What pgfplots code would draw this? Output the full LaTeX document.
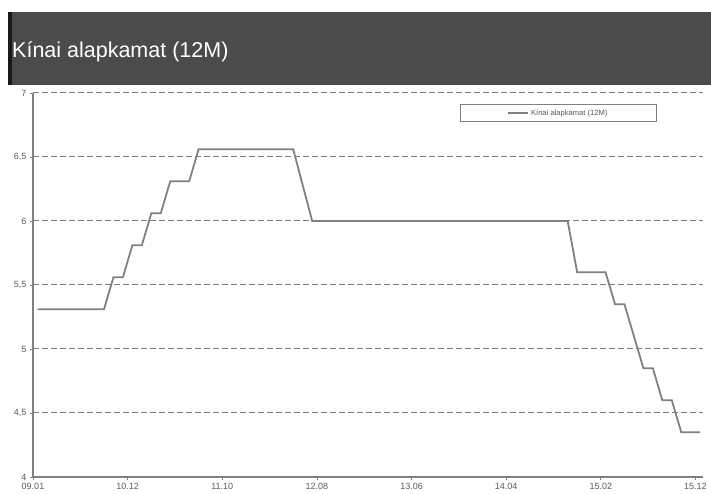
\documentclass[border=0pt]{standalone}
\usepackage{fontspec}
\setmainfont{Liberation Sans}
\usepackage{pgfplots}
\pgfplotsset{compat=1.18}
\definecolor{hdr}{HTML}{4B4B4B}
\definecolor{ln}{HTML}{808080}
\definecolor{tk}{HTML}{5A5A5A}
\begin{document}
\begin{tikzpicture}[x=1pt,y=1pt]
\useasboundingbox (0,0) rectangle (711,494);
\fill[hdr] (8,409) rectangle (711,482);
\fill[black!90] (8,409) rectangle (12,482);
\node[anchor=west, text=white, font=\fontsize{21.5}{25}\selectfont, inner sep=0pt] at (12,442) {Kínai alapkamat (12M)};
\begin{axis}[
  at={(33pt,17pt)}, anchor=south west,
  scale only axis, width=670pt, height=384pt,
  xmin=0, xmax=70.8, ymin=4, ymax=7,
  axis x line*=bottom, axis y line*=left,
  x axis line style={-}, y axis line style={-},
  axis line style={ln, line width=1.3pt},
  xtick={0,10,20,30,40,50,60,70},
  xticklabels={09.01,10.12,11.10,12.08,13.06,14.04,15.02,15.12},
  ytick={4,4.5,5,5.5,6,6.5,7},
  tick align=outside, major tick length=3pt,
  tick style={ln, line width=0.8pt},
  ymajorgrids,
  grid style={ln, line width=1pt, dash pattern=on 6pt off 3pt},
  ticklabel style={font=\fontsize{9}{10}\selectfont, text=tk},
  /pgf/number format/assume math mode=true,
  /pgf/number format/.cd, use comma, fixed, precision=1, /pgfplots/.cd,
  legend style={at={(0.637,0.971)}, anchor=north west, draw=ln, line width=1pt,
    inner xsep=47pt, inner ysep=3pt,
    font=\fontsize{7.6}{8.5}\selectfont, text=tk},
  legend image code/.code={\draw[#1] (0pt,0pt) -- (20pt,0pt);},
]
\addplot[ln, line width=1.8pt] coordinates {
(0.5,5.31) (1.5,5.31) (2.5,5.31) (3.5,5.31) (4.5,5.31) (5.5,5.31) (6.5,5.31) (7.5,5.31)
(8.5,5.56) (9.5,5.56) (10.5,5.81) (11.5,5.81) (12.5,6.06) (13.5,6.06)
(14.5,6.31) (15.5,6.31) (16.5,6.31)
(17.5,6.56) (18.5,6.56) (19.5,6.56) (20.5,6.56) (21.5,6.56) (22.5,6.56) (23.5,6.56) (24.5,6.56) (25.5,6.56) (26.5,6.56) (27.5,6.56)
(29.5,6.00) (35.5,6.00) (40.5,6.00) (45.5,6.00) (50.5,6.00) (56.5,6.00)
(57.5,5.60) (58.5,5.60) (59.5,5.60) (60.5,5.60)
(61.5,5.35) (62.5,5.35) (63.5,5.10) (64.5,4.85) (65.5,4.85)
(66.5,4.60) (67.5,4.60) (68.5,4.35) (69.5,4.35) (70.5,4.35)
};
\addlegendentry{Kínai alapkamat (12M)}
\end{axis}
\end{tikzpicture}
\end{document}
